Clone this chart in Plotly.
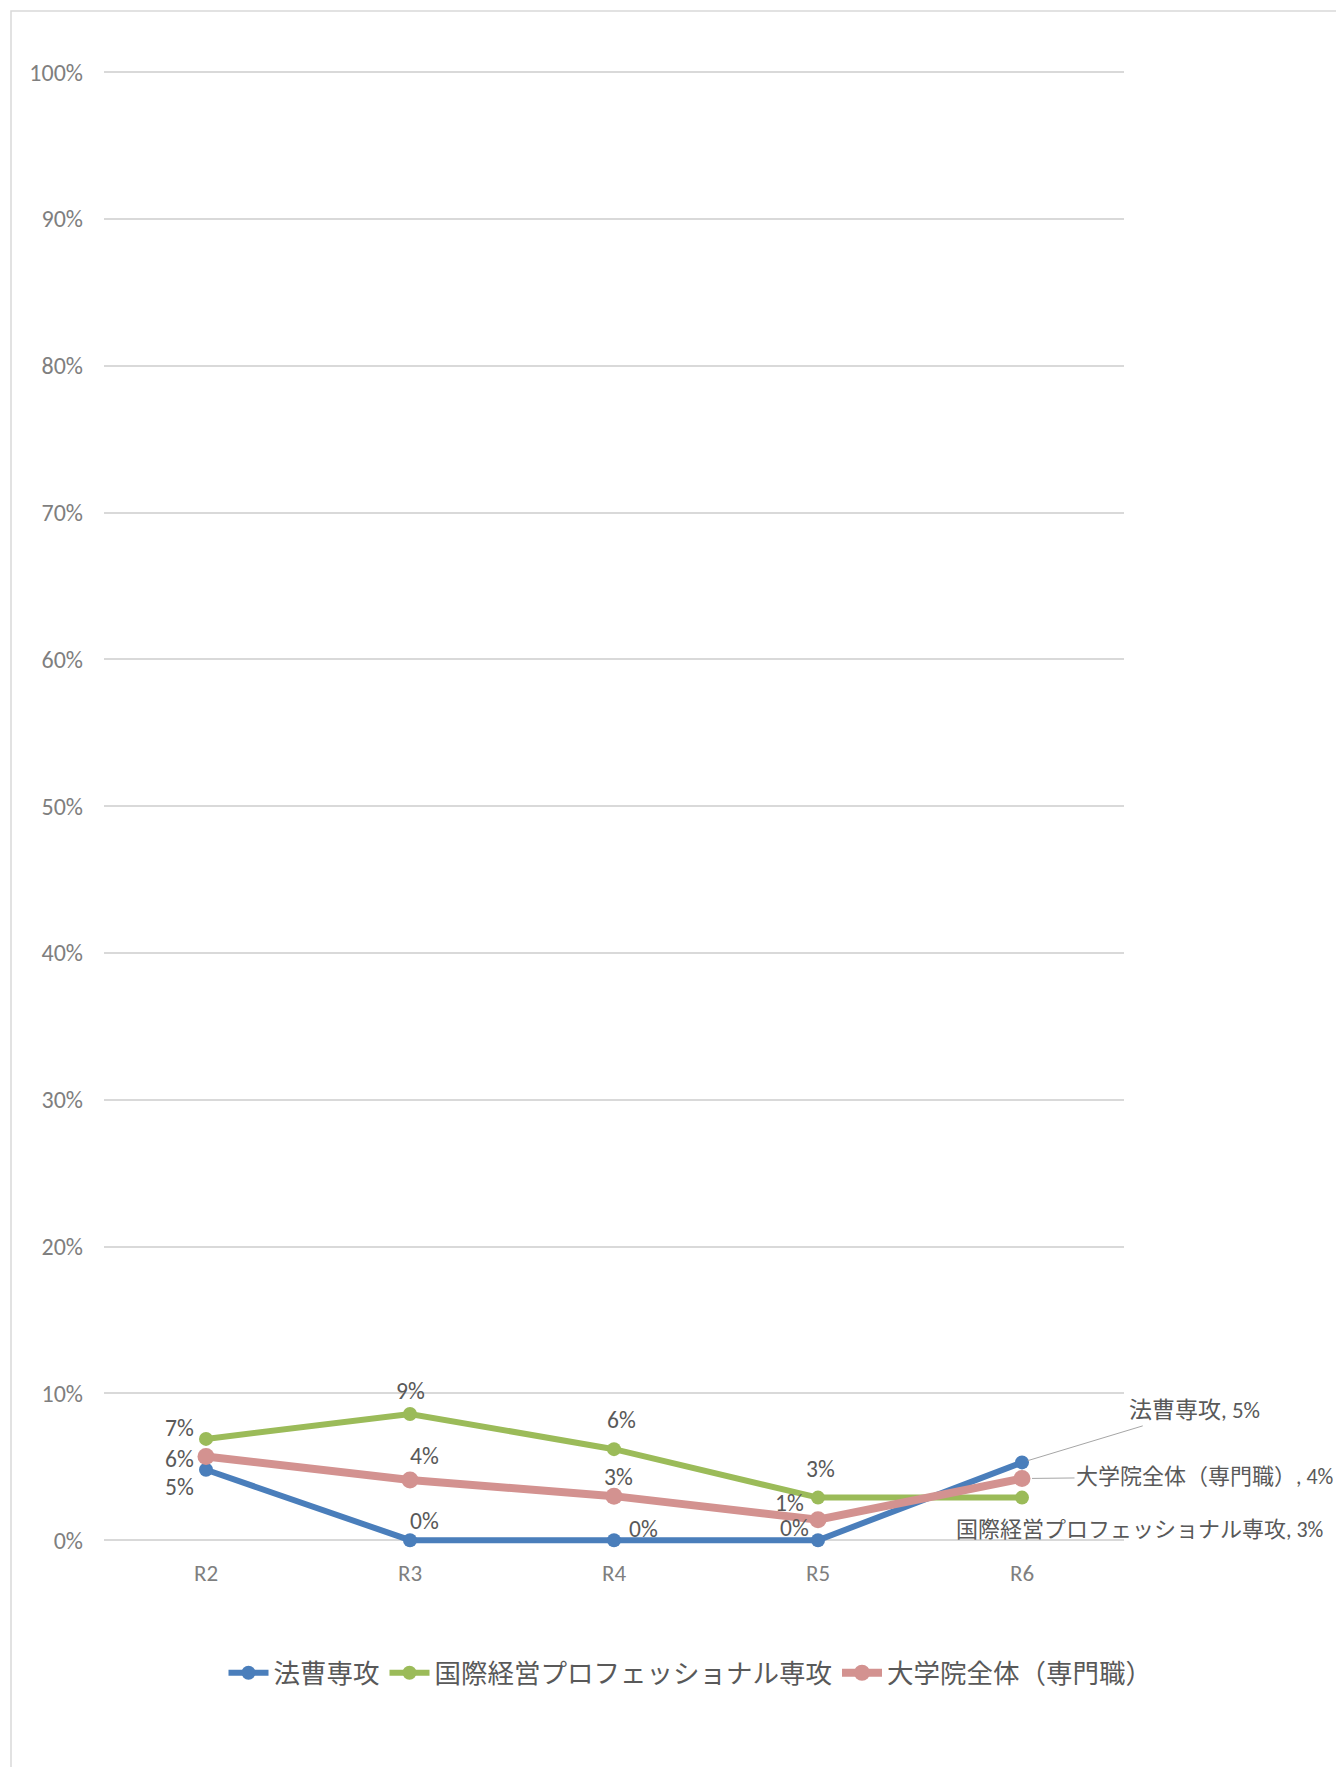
import plotly.graph_objects as go

categories = ["R2", "R3", "R4", "R5", "R6"]
law = [0.048, 0.0, 0.0, 0.0, 0.053]
intl = [0.069, 0.086, 0.062, 0.029, 0.029]
grad = [0.057, 0.041, 0.030, 0.014, 0.042]
names = ["法曹専攻", "国際経営プロフェッショナル専攻", "大学院全体（専門職）"]
y_ticks = [0, 0.1, 0.2, 0.3, 0.4, 0.5, 0.6, 0.7, 0.8, 0.9, 1.0]

colors = ["#4a7ebb", "#9bbb59", "#d39290"]
widths = [6, 6, 8]
msizes = [14, 14, 17]

FONT = "Carlito, Lato, 'Noto Sans CJK JP', sans-serif"
TXT = "#595959"

# page body has an 8px margin: compensate
W, H = 1336, 1759
L, T = 96, 63
PR, P0 = 1116, 1532          # right edge, pixel of the 0% line
YMIN, YMAX = -0.006, 1.0008
ppu = (P0 - T) / YMAX         # pixels per unit
PB = P0 + (-YMIN) * ppu       # extend plot below 0 so the zero line isn't clipped
R, B = W - PR, H - PB

fig = go.Figure()
series = [law, intl, grad]
for s, nm, c, w, ms in zip(series, names, colors, widths, msizes):
    fig.add_trace(go.Scatter(
        x=categories, y=s, name=nm, mode="lines+markers",
        line=dict(color=c, width=w), marker=dict(color=c, size=ms),
        cliponaxis=False, hoverinfo="skip"))

offsets = [
    [(-27, 17), (14, -19), (29, -11), (-24, -12), None],
    [(-27, -11), (0, -23), (7, -29), (2, -29), None],
    [(-27, 2), (14, -24), (4, -19), (-29, -17), None],
]
annotations = []
for s, offs in zip(series, offsets):
    for cat, v, o in zip(categories, s, offs):
        if o is None:
            continue
        annotations.append(dict(
            x=cat, y=v, text=f"{round(v*100):d}%", showarrow=False,
            xshift=o[0], yshift=-o[1],
            font=dict(family=FONT, size=23.5, color=TXT)))

last = categories[-1]
annotations.append(dict(
    x=last, y=law[-1], text=f"{names[0]}, {round(law[-1]*100):d}%",
    showarrow=True, arrowhead=0, arrowwidth=1, arrowcolor="#a6a6a6",
    ax=172, ay=-52, standoff=6,
    font=dict(family=FONT, size=23, color=TXT)))
annotations.append(dict(
    x=last, y=grad[-1], text=f"{names[2]}, {round(grad[-1]*100):d}%",
    showarrow=True, arrowhead=0, arrowwidth=1, arrowcolor="#a6a6a6",
    ax=183, ay=-2, standoff=10,
    font=dict(family=FONT, size=22, color=TXT)))
annotations.append(dict(
    x=last, y=intl[-1], text=f"{names[1]}, {round(intl[-1]*100):d}%",
    showarrow=False, xanchor="left", xshift=-68, yshift=-32,
    font=dict(family=FONT, size=22, color=TXT)))

fig.update_layout(
    width=W, height=H, autosize=False,
    margin=dict(l=L, r=R, t=T, b=B, pad=0),
    paper_bgcolor="white", plot_bgcolor="white",
    font=dict(family=FONT, color=TXT),
    showlegend=True,
    legend=dict(orientation="h", x=0.575, xanchor="center", yref="container",
                y=1 - (1673 - 8) / H, yanchor="middle",
                font=dict(family=FONT, size=26.5, color=TXT),
                itemwidth=40, traceorder="normal", bgcolor="rgba(0,0,0,0)"),
    xaxis=dict(type="category", range=[-0.5, 4.5], showgrid=False, zeroline=False,
               showline=False, ticks="", tickfont=dict(size=23, color="#7f7f7f"),
               ticklabelstandoff=8, fixedrange=True),
    yaxis=dict(range=[YMIN, YMAX], tickvals=y_ticks, tickformat=".0%", showgrid=True,
               gridcolor="#d9d9d9", gridwidth=1.5, zeroline=False, showline=False,
               ticks="", tickfont=dict(size=24, color="#7f7f7f"), ticklabelstandoff=20,
               fixedrange=True),
    annotations=annotations,
    shapes=[dict(type="rect", xref="paper", yref="paper",
                 x0=(3 - L) / (PR - L), x1=1.5,
                 y0=-0.5, y1=(PB - 3) / (PB - T),
                 line=dict(color="#d9d9d9", width=1.5), fillcolor="rgba(0,0,0,0)",
                 layer="below")],
)

fig.write_html("out.html")
